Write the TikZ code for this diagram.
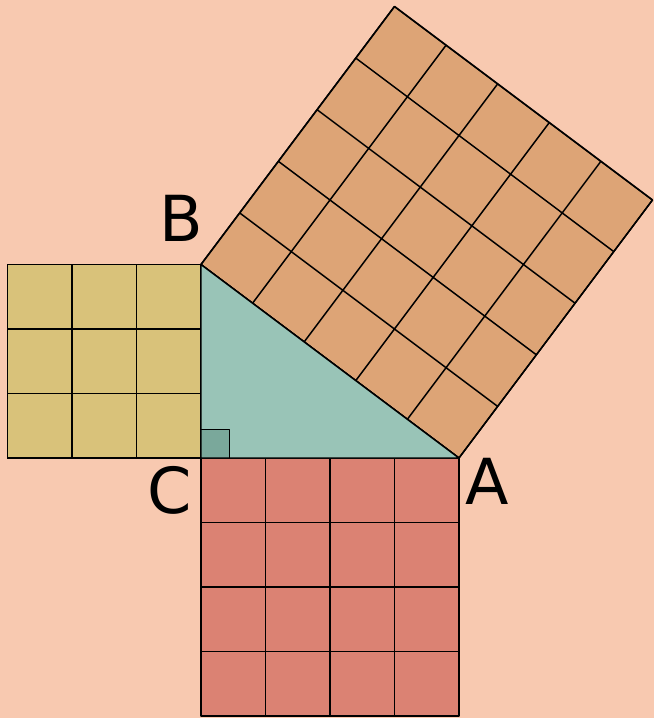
\documentclass[tikz,border=0pt]{standalone}
\usepackage{fontspec}
\newfontfamily\labelfont{DejaVu Sans}
\definecolor{bgc}{RGB}{248,201,176}
\definecolor{yelc}{RGB}{217,194,122}
\definecolor{orac}{RGB}{221,164,118}
\definecolor{redc}{RGB}{219,130,115}
\definecolor{teac}{RGB}{153,196,183}
\definecolor{angc}{RGB}{122,168,155}
\begin{document}
\begin{tikzpicture}[line join=round,
  edge/.style={draw=black, line width=0.65pt},
  lbl/.style={font=\labelfont\fontsize{28}{30}\selectfont, inner sep=0pt}]
\fill[bgc] (-3.116,-4.031) rectangle (7.023,7.101);
\useasboundingbox (-3.116,-4.031) rectangle (7.023,7.101);
\coordinate (C) at (0,0);
\coordinate (A) at (4,0);
\coordinate (B) at (0,3);
% square on BC
\fill[yelc] (-3,0) rectangle (B);
\draw[edge, step=1] (-3,0) grid (0,3);
\draw[edge] (-3,0) rectangle (B);
% square on CA
\fill[redc] (C) rectangle (4,-4);
\draw[edge, step=1] (0,-4) grid (4,0);
\draw[edge] (C) rectangle (4,-4);
% square on AB
\begin{scope}[cm={0.8,-0.6,0.6,0.8,(0,3)}]
\fill[orac] (0,0) rectangle (5,5);
\draw[edge, step=1] (0,0) grid (5,5);
\draw[edge] (0,0) rectangle (5,5);
\end{scope}
% triangle
\fill[teac] (C) -- (A) -- (B) -- cycle;
\fill[angc] (C) rectangle (0.44,0.44);
\draw[edge] (0,0.44) -- (0.44,0.44) -- (0.44,0);
\draw[edge] (C) -- (A) -- (B) -- cycle;
% labels
\node[lbl] (lB) at (-0.31,3.72) {B};
\node[lbl] (lC) at (-0.48,-0.50) {C};
\node[lbl] (lA) at (4.43,-0.36) {A};
\end{tikzpicture}
\end{document}
